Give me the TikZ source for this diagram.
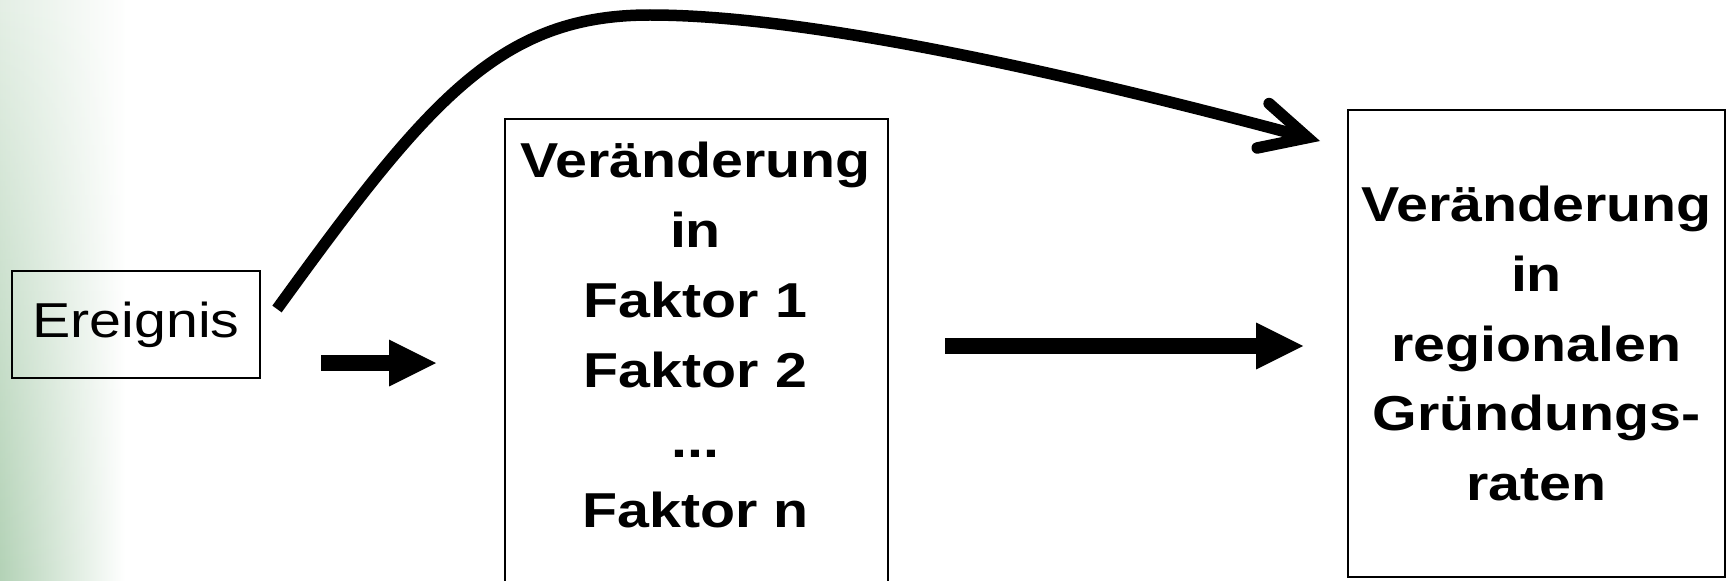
\documentclass[tikz,border=0pt]{standalone}
\usepackage{fontspec}
\setmainfont{Liberation Sans}[FakeStretch=1.17]
\usepackage{tikz}
\usetikzlibrary{arrows.meta, positioning, fadings}
\definecolor{leafgreen}{HTML}{B3D2B6}
\tikzset{
  evbox/.style={rectangle, draw=black, line width=1.1pt, minimum width=4.96cm, minimum height=2.14cm,
    inner sep=0pt, font=\fontsize{27.9}{39.8}\selectfont},
  facbox/.style={rectangle, draw=black, line width=1.1pt, inner sep=0pt},
  btxt/.style={align=center, inner sep=0pt, font=\bfseries\fontsize{27.9}{39.8}\selectfont},
  fat/.style={-{Triangle[length=0.94cm, width=0.94cm, line width=0pt]}, line width=0.32cm},
  bow/.style={-{Straight Barb[length=0.92cm, width=0.92cm, line cap=round]}, line width=0.23cm},
}

\begin{document}
\begin{tikzpicture}[x=0.02cm, y=-0.02cm]

\useasboundingbox (0,0) rectangle (1730,581);
\fill[white] (0,0) rectangle (1730,581);
\shade[left color=leafgreen!35, right color=white] (0,0) rectangle (125,581);
\shade[left color=leafgreen, right color=white, path fading=north] (0,0) rectangle (125,581);
\clip (0,0) rectangle (1730,581);

\node[evbox] (EV) at (136,324.5) {Ereignis};

\node[facbox, minimum width=7.66cm, minimum height=9.6cm, anchor=north west] (FK) at (504,118) {};
\node[btxt, anchor=north] (FKt) at (695.5,142) {Veränderung\\ in\\ Faktor 1\\ Faktor 2\\ ...\\ Faktor n};

\node[facbox, btxt, minimum width=7.54cm, minimum height=9.34cm] (GR) at (1536.5,343.5)
  {Veränderung\\ in\\ regionalen\\ Gründungs-\\ raten};

\coordinate (s1) at (321,363);
\coordinate (e1) at (436,363);
\coordinate (s2) at (945,346);
\coordinate (e2) at (1303,346);
\coordinate (s3) at (277,309);
\coordinate (e3) at (1320,141);

\draw[fat] (s1) -- (e1);
\draw[fat] (s2) -- (e2);
\draw[bow] (s3) .. controls (429,99) and (500,15) .. (650,15)
  .. controls (820,15) and (1100,82) .. (e3);

\end{tikzpicture}
\end{document}
